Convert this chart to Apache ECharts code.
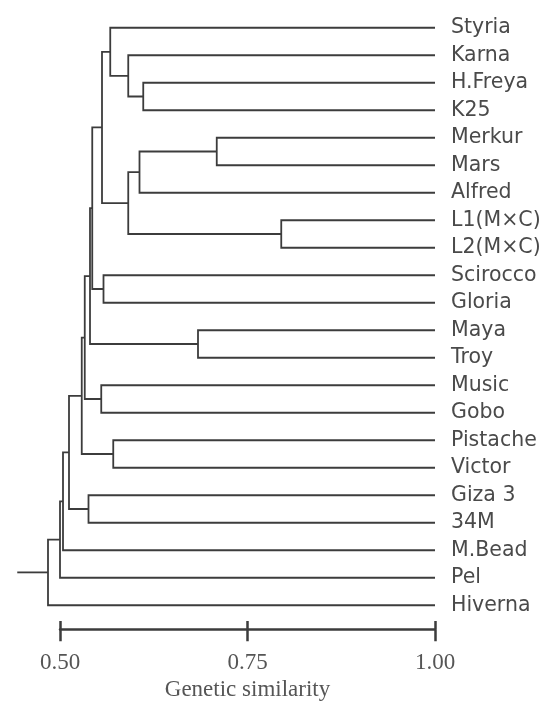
<!DOCTYPE html>
<html>
<head>
<meta charset="utf-8">
<script src="https://cdn.jsdelivr.net/npm/echarts@6/dist/echarts.min.js"></script>
<style>
  html, body { margin: 0; padding: 0; background: #fff; }
  #chart { width: 546px; height: 702px; }
</style>
</head>
<body>
<div id="chart"></div>
<script>
// Cultivars, top to bottom in the dendrogram
const leaves = ['Styria', 'Karna', 'H.Freya', 'K25', 'Merkur', 'Mars', 'Alfred',
  'L1(M×C)', 'L2(M×C)', 'Scirocco', 'Gloria', 'Maya', 'Troy', 'Music', 'Gobo',
  'Pistache', 'Victor', 'Giza 3', '34M', 'M.Bead', 'Pel', 'Hiverna'];

// Agglomeration steps: cluster #k joins mergeA[k] and mergeB[k] at mergeSimilarity[k].
// A child is either a cultivar name or '#k' for an earlier cluster.
const mergeA = ['H.Freya', 'Karna', 'Styria', 'Merkur', '#3', 'L1(M×C)', '#4', '#2',
  'Scirocco', '#7', 'Maya', '#9', 'Music', '#11', 'Pistache', '#13', 'Giza 3',
  '#15', '#17', '#18', '#19'];
const mergeB = ['K25', '#0', '#1', 'Mars', 'Alfred', 'L2(M×C)', '#5', '#6',
  'Gloria', '#8', 'Troy', '#10', 'Gobo', '#12', 'Victor', '#14', '34M',
  '#16', 'M.Bead', 'Pel', 'Hiverna'];
const mergeSimilarity = [0.611, 0.591, 0.567, 0.709, 0.606, 0.795, 0.591, 0.556,
  0.558, 0.543, 0.684, 0.540, 0.555, 0.533, 0.571, 0.529, 0.538,
  0.512, 0.504, 0.500, 0.484];
const rootStart = 0.443;

// Similarity scale bar
const scaleTicks = [0.50, 0.75, 1.00];

// Resolve every node to (similarity, row position)
const nodes = [];
function locate(ref) {
  if (ref.charAt(0) === '#') return nodes[+ref.slice(1)];
  return { x: 1.0, y: leaves.indexOf(ref) };
}
const paths = [];
mergeA.forEach((a, k) => {
  const A = locate(a), B = locate(mergeB[k]), s = mergeSimilarity[k];
  paths.push({ coords: [[A.x, A.y], [s, A.y], [s, B.y], [B.x, B.y]] });
  nodes.push({ x: s, y: (A.y + B.y) / 2 });
});
const root = nodes[nodes.length - 1];
paths.push({ coords: [[root.x, root.y], [rootStart, root.y]] });

const scaleMin = scaleTicks[0];
const scaleMax = scaleTicks[scaleTicks.length - 1];
const scaleStep = scaleTicks[1] - scaleTicks[0];

const ink = '#3c3c3c';
const chart = echarts.init(document.getElementById('chart'), null, { renderer: 'canvas' });
chart.setOption({
  animation: false,
  backgroundColor: '#fff',
  grid: [
    { left: 15, width: 420, top: 14, height: 605 },
    { left: 60, width: 375, top: 629, height: 1 }
  ],
  xAxis: [
    { gridIndex: 0, type: 'value', min: 0.44, max: 1.0, show: false },
    {
      gridIndex: 1, type: 'value', min: scaleMin, max: scaleMax, interval: scaleStep, position: 'bottom',
      axisLine: { show: true, lineStyle: { color: ink, width: 2.5 } },
      axisTick: { show: true, length: 12, lineStyle: { color: ink, width: 2.5 } },
      axisLabel: {
        margin: 22, color: '#555', fontFamily: 'Liberation Serif', fontSize: 23,
        formatter: v => v.toFixed(2)
      },
      splitLine: { show: false },
      name: 'Genetic similarity', nameLocation: 'middle', nameGap: 49,
      nameTextStyle: { color: '#555', fontFamily: 'Liberation Serif', fontSize: 23 }
    },
    {
      gridIndex: 1, type: 'value', min: scaleMin, max: scaleMax, interval: scaleStep, position: 'top',
      axisLine: { show: false },
      axisTick: { show: true, length: 8, lineStyle: { color: ink, width: 2.5 } },
      axisLabel: { show: false },
      splitLine: { show: false }
    }
  ],
  yAxis: [
    { gridIndex: 0, type: 'value', min: -0.5, max: 21.5, inverse: true, show: false },
    {
      gridIndex: 0, type: 'category', data: leaves, inverse: true, position: 'right',
      axisLine: { show: false }, axisTick: { show: false }, splitLine: { show: false },
      axisLabel: { margin: 16, color: '#4a4a4a', fontFamily: 'DejaVu Sans', fontSize: 20.5 }
    },
    { gridIndex: 1, type: 'value', show: false }
  ],
  series: [{
    type: 'lines',
    coordinateSystem: 'cartesian2d',
    xAxisIndex: 0,
    yAxisIndex: 0,
    polyline: true,
    silent: true,
    lineStyle: { color: ink, width: 1.8, opacity: 1 },
    data: paths
  }]
});
</script>
</body>
</html>
